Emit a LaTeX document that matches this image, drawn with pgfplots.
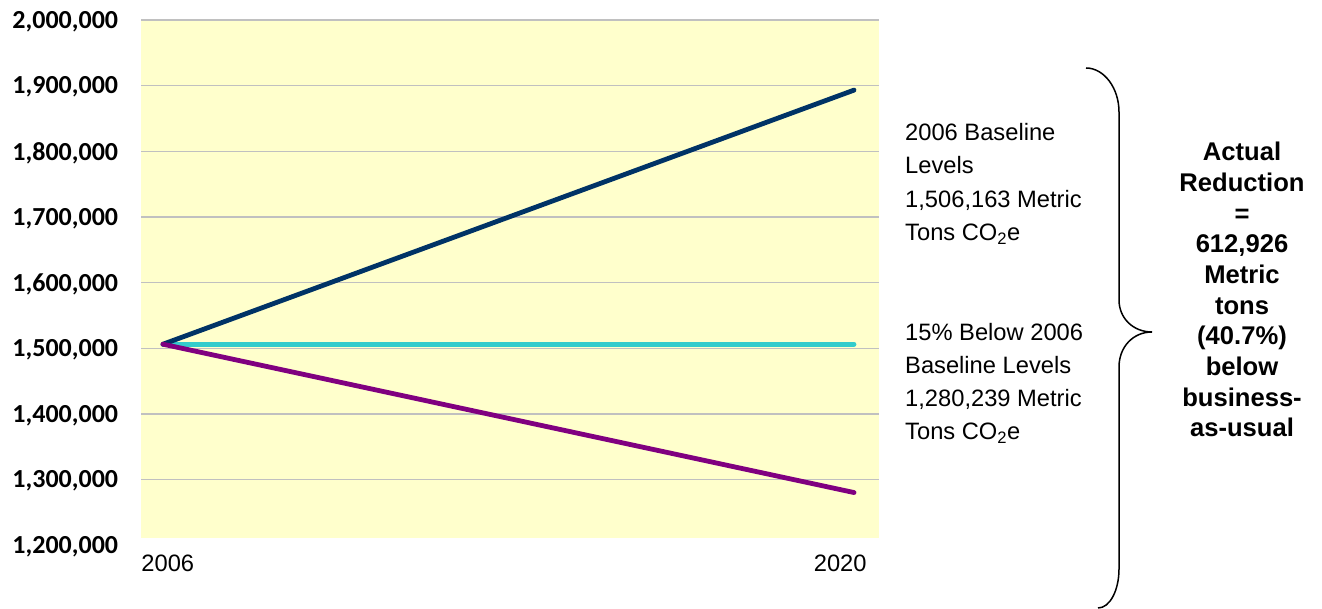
\documentclass[border=0pt]{standalone}
\usepackage{fontspec}
\setmainfont{Liberation Sans}
\newfontfamily\calibri{Carlito}
\usepackage{pgfplots}
\pgfplotsset{compat=1.18}

\definecolor{bauNavy}{HTML}{003366}
\definecolor{baseCyan}{HTML}{33CCCC}
\definecolor{goalPurple}{HTML}{800080}
\definecolor{plotYellow}{HTML}{FFFFCC}
\definecolor{gridGray}{HTML}{C0C0C0}

\newcommand\regfont{\fontsize{23.7bp}{23.7bp}\selectfont}
\newcommand\boldfont{\bfseries\fontsize{25.6bp}{25.6bp}\selectfont}
\newcommand\tickfont{\calibri\bfseries\fontsize{26bp}{26bp}\selectfont}

\begin{document}
\begin{tikzpicture}[x=1bp,y=1bp]
\useasboundingbox (0,0) rectangle (1322,609);
\begin{axis}[
  at={(141bp,71bp)}, anchor=south west,
  scale only axis, width=738bp, height=518bp,
  xmin=-0.0318, xmax=1.0362,
  ymin=1211000, ymax=2000000,
  clip=false,
  axis background/.style={fill=plotYellow},
  axis line style={draw=none},
  major tick length=0pt,
  xtick={0.007,0.98}, xticklabels={2006,2020},
  xticklabel style={font=\regfont, inner sep=0pt, anchor=base, yshift=-33.7bp},
  ytick={1300000,1400000,1500000,1600000,1700000,1800000,1900000,2000000},
  scaled y ticks=false,
  yticklabel={\pgfmathprintnumber[fixed,precision=0,1000 sep={,},assume math mode=true]{\tick}},
  yticklabel style={font=\tickfont, inner sep=0pt, anchor=east, xshift=-22.7bp, yshift=-1.5bp},
  ymajorgrids, grid style={gridGray, line width=1.3bp},
]
% target level, business-as-usual growth and 15% reduction path
\addplot[baseCyan, line width=4.8bp, line cap=round] coordinates {(0,1506163) (1,1506163)};
\addplot[bauNavy, line width=4.8bp, line cap=round] coordinates {(0,1506163) (1,1893165)};
\addplot[goalPurple, line width=4.8bp, line cap=round] coordinates {(0,1506163) (1,1280239)};
% lowest tick label sits just below the shaded area
\node[font=\tickfont, inner sep=0pt, anchor=east, xshift=-22.7bp, yshift=-1.5bp] at (axis cs:-0.0318,1200000) {1,200,000};
\end{axis}

% annotations to the right of the plot
\begin{scope}[every node/.style={inner sep=0pt, anchor=base west, font=\regfont}]
\node at (905,{609-140.7}) {2006 Baseline};
\node at (905,{609-174.0}) {Levels};
\node at (905,{609-207.3}) {1,506,163 Metric};
\node at (905,{609-240.6}) {Tons CO\textsubscript{2}e};
\node at (905,{609-340.7}) {15\% Below 2006};
\node at (905,{609-373.7}) {Baseline Levels};
\node at (905,{609-406.7}) {1,280,239 Metric};
\node at (905,{609-439.7}) {Tons CO\textsubscript{2}e};
\end{scope}

% brace
\draw[black, line width=1.5bp]
  (1086,{609-68}) .. controls (1104,{609-68}) and (1119,{609-88}) .. (1119,{609-112})
  -- (1119,{609-300})
  .. controls (1119,{609-318}) and (1133,{609-332}) .. (1152,{609-332})
  .. controls (1133,{609-332}) and (1119,{609-347}) .. (1119,{609-367})
  -- (1119,{609-569})
  .. controls (1119,{609-590}) and (1110,{609-608}) .. (1098,{609-608});

\begin{scope}[every node/.style={inner sep=0pt, anchor=base, font=\boldfont}]
\node at (1242,{609-160.7}) {Actual};
\node at (1242,{609-191.4}) {Reduction};
\node at (1242,{609-222.1}) {=};
\node at (1242,{609-252.8}) {612,926};
\node at (1242,{609-283.5}) {Metric};
\node at (1242,{609-314.2}) {tons};
\node at (1242,{609-344.9}) {(40.7\%)};
\node at (1242,{609-375.6}) {below};
\node at (1242,{609-406.3}) {business-};
\node at (1242,{609-437.0}) {as-usual};
\end{scope}
\end{tikzpicture}
\end{document}
